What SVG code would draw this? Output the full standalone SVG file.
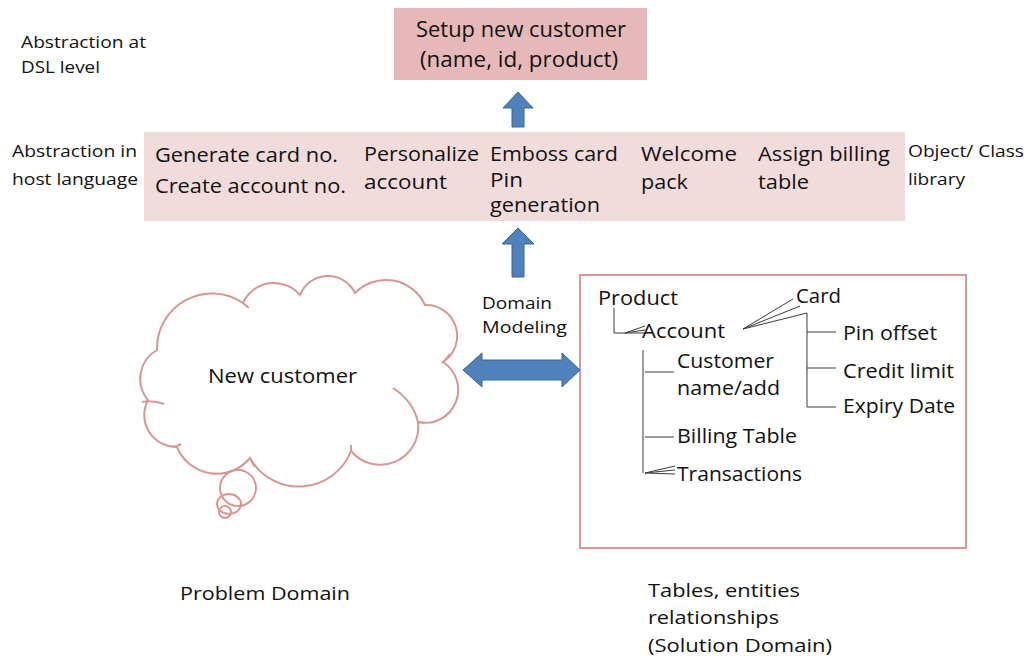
<svg xmlns="http://www.w3.org/2000/svg" width="1031" height="659" viewBox="0 0 1031 659">
<style>
text{font-family:"Open Sans","Liberation Sans",sans-serif;fill:#111;}
.t20{font-size:20px;}
.t19{font-size:19.5px;}
.t21{font-size:21px;}
.t17{font-size:17px;}
.t18{font-size:18px;}
.pink{stroke:#d99694;stroke-width:2;fill:none;}
.tree{stroke:#3c3c3c;stroke-width:1;fill:none;}
.barrow{fill:#4f81bd;stroke:#3a6595;stroke-width:1;}
</style>
<rect width="1031" height="659" fill="#fff"/>

<g id="label-dsl">
<text class="t17" x="21" y="48" textLength="125" lengthAdjust="spacingAndGlyphs">Abstraction at</text>
<text class="t17" x="21" y="73" textLength="79" lengthAdjust="spacingAndGlyphs">DSL level</text>
</g>
<g id="label-host">
<text class="t17" x="12" y="157" textLength="125" lengthAdjust="spacingAndGlyphs">Abstraction in</text>
<text class="t17" x="12" y="185" textLength="126" lengthAdjust="spacingAndGlyphs">host language</text>
</g>
<g id="label-lib">
<text class="t17" x="908" y="157" textLength="116" lengthAdjust="spacingAndGlyphs">Object/ Class</text>
<text class="t17" x="908" y="185" textLength="57" lengthAdjust="spacingAndGlyphs">library</text>
</g>

<g id="node-setup">
<rect x="394" y="8" width="253" height="72" fill="#e6b9b8"/>
<text class="t21" x="416" y="37" textLength="210" lengthAdjust="spacingAndGlyphs">Setup new customer</text>
<text class="t21" x="420" y="67" textLength="198" lengthAdjust="spacingAndGlyphs">(name, id, product)</text>
</g>

<g id="node-host">
<rect x="144" y="132" width="761" height="89" fill="#f2dcdb"/>
<text class="t19" x="155" y="162" textLength="183" lengthAdjust="spacingAndGlyphs">Generate card no.</text>
<text class="t19" x="155" y="193" textLength="191" lengthAdjust="spacingAndGlyphs">Create account no.</text>
<text class="t19" x="364" y="161" textLength="115" lengthAdjust="spacingAndGlyphs">Personalize</text>
<text class="t19" x="364" y="189" textLength="83" lengthAdjust="spacingAndGlyphs">account</text>
<text class="t19" x="490" y="161" textLength="128" lengthAdjust="spacingAndGlyphs">Emboss card</text>
<text class="t19" x="490" y="187" textLength="33" lengthAdjust="spacingAndGlyphs">Pin</text>
<text class="t19" x="490" y="212" textLength="110" lengthAdjust="spacingAndGlyphs">generation</text>
<text class="t19" x="641" y="161" textLength="96" lengthAdjust="spacingAndGlyphs">Welcome</text>
<text class="t19" x="641" y="189" textLength="47" lengthAdjust="spacingAndGlyphs">pack</text>
<text class="t19" x="758" y="161" textLength="132" lengthAdjust="spacingAndGlyphs">Assign billing</text>
<text class="t19" x="758" y="189" textLength="51" lengthAdjust="spacingAndGlyphs">table</text>
</g>

<g id="node-cloud">
<path class="pink" fill="#fff" d="M157,350 A55,55 0 0 1 243,303 A34,34 0 0 1 300,295 A30,30 0 0 1 355,293 A43,43 0 0 1 425,305 A31,31 0 0 1 443,362 A33,33 0 0 1 418,422 A38,38 0 0 1 351,451 A56,56 0 0 1 250,458 A43,43 0 0 1 177,447 A32,32 0 0 1 148,400 A33,33 0 0 1 157,350 Z"/>
<path class="pink" d="M142,402 Q153,400 164,404 M393,388 Q413,401 418,422 M351,445 L351,452 M442,363 Q447,358 450,354 M243,303 Q246,306 249,308 M250,458 Q252,463 255,467 M173,447 Q177,446 181,444"/>
<circle class="pink" cx="238" cy="488" r="18"/>
<ellipse class="pink" cx="229" cy="504" rx="12" ry="10"/>
<circle class="pink" cx="225" cy="512" r="6"/>
<text class="t20" x="208" y="383" textLength="149" lengthAdjust="spacingAndGlyphs">New customer</text>
</g>

<g id="label-domain-modeling">
<text class="t17" x="482" y="309" textLength="70" lengthAdjust="spacingAndGlyphs">Domain</text>
<text class="t17" x="482" y="333" textLength="85" lengthAdjust="spacingAndGlyphs">Modeling</text>
</g>

<g id="node-solution">
<rect class="pink" x="580" y="275" width="386" height="273"/>
<g class="tree">
<path d="M614,308 V333 H625 M625,333 L645,326 M625,333 L645,330 M625,333 L645,333"/>
<path d="M743,329 L793,299 M743,329 L800,306 M743,329 L807,313"/>
<path d="M807,313 V407 M807,332 H836 M807,368 H836 M807,407 H836"/>
<path d="M643,350 V473 M645,372 H674 M645,437 H674 M645,473 L675,466 M645,473 L675,470 M645,473 L675,474"/>
</g>
<text class="t20" x="598" y="305" textLength="80" lengthAdjust="spacingAndGlyphs">Product</text>
<text class="t20" x="796" y="303" textLength="45" lengthAdjust="spacingAndGlyphs">Card</text>
<text class="t20" x="642" y="338" textLength="83" lengthAdjust="spacingAndGlyphs">Account</text>
<text class="t20" x="843" y="340" textLength="94" lengthAdjust="spacingAndGlyphs">Pin offset</text>
<text class="t20" x="677" y="368" textLength="97" lengthAdjust="spacingAndGlyphs">Customer</text>
<text class="t20" x="677" y="395" textLength="103" lengthAdjust="spacingAndGlyphs">name/add</text>
<text class="t20" x="843" y="378" textLength="111" lengthAdjust="spacingAndGlyphs">Credit limit</text>
<text class="t20" x="843" y="413" textLength="112" lengthAdjust="spacingAndGlyphs">Expiry Date</text>
<text class="t20" x="677" y="443" textLength="120" lengthAdjust="spacingAndGlyphs">Billing Table</text>
<text class="t20" x="677" y="481" textLength="125" lengthAdjust="spacingAndGlyphs">Transactions</text>
</g>

<g id="label-problem">
<text class="t18" x="180" y="600" textLength="170" lengthAdjust="spacingAndGlyphs">Problem Domain</text>
</g>
<g id="label-solution">
<text class="t18" x="648" y="597" textLength="152" lengthAdjust="spacingAndGlyphs">Tables, entities</text>
<text class="t18" x="648" y="624" textLength="131" lengthAdjust="spacingAndGlyphs">relationships</text>
<text class="t18" x="648" y="652" textLength="184" lengthAdjust="spacingAndGlyphs">(Solution Domain)</text>
</g>

<g id="connectors">
<path class="barrow" d="M518,92 L533,108 L524,108 L524,127 L512,127 L512,108 L503,108 Z"/>
<path class="barrow" d="M518,228 L534,244 L524,244 L524,277 L512,277 L512,244 L502,244 Z"/>
<path class="barrow" d="M463,370 L482,353 L482,360 L562,360 L562,353 L580,370 L562,387 L562,380 L482,380 L482,387 Z"/>
</g>
</svg>
